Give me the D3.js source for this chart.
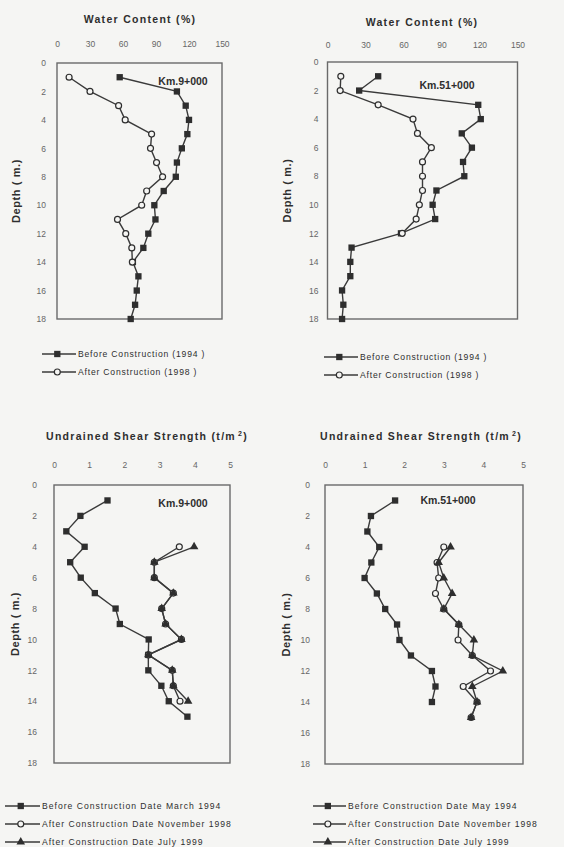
<!DOCTYPE html>
<html><head><meta charset="utf-8">
<script src="https://cdn.jsdelivr.net/npm/d3@7"></script>
<style>
html,body{margin:0;padding:0;background:#f5f5f3;}
svg{display:block;font-family:"Liberation Sans",Arial,sans-serif;}
</style></head>
<body>
<svg id="c" width="564" height="847"></svg>
<script>
// ---------- DATA ----------
const depthTicks = [0,2,4,6,8,10,12,14,16,18];
const wcTicks = [0,30,60,90,120,150];
const ssTicks = [0,1,2,3,4,5];

const wc9Depth = [1,2,3,4,5,6,7,8,9,10,11,12,13,14,15,16,17,18];
const wc9Before = [57,109,117,120,118.5,113.5,109,108,97,88.5,89.5,83,78.5,69,74,72.5,71,67];
const wc9AfterDepth = [1,2,3,4,5,6,7,8,9,10,11,12,13,14];
const wc9After = [11,30,56,62,86,85,90.5,96,81.5,77,55,62.5,68,68.5];

const wc51Depth = [1,2,3,4,5,6,7,8,9,10,11,12,13,14,15,16,17,18];
const wc51Before = [40,25,119,121,106,114,107,108,86,83,85,58,19,18,18,11.5,12.5,11.5];
const wc51AfterDepth = [1,2,3,4,5,6,7,8,9,10,11,12];
const wc51After = [10.5,10,40,67.5,71,82,75,75,75,72.5,70,59];

const ss9BeforeDepth = [1,2,3,4,5,6,7,8,9,10,11,12,13,14,15];
const ss9Before = [1.52,0.75,0.35,0.87,0.46,0.76,1.16,1.75,1.87,2.69,2.68,2.68,3.05,3.26,3.79];
const ss9AfterDepth = [4,5,6,7,8,9,10,11,12,13,14];
const ss9AfterNov = [3.56,2.85,2.85,3.39,3.06,3.17,3.62,2.68,3.36,3.39,3.58];
const ss9AfterJul = [3.98,2.85,2.85,3.39,3.06,3.17,3.62,2.68,3.36,3.39,3.81];

const ss51BeforeDepth = [1,2,3,4,5,6,7,8,9,10,11,12,13,14];
const ss51Before = [1.77,1.16,1.07,1.37,1.17,1.0,1.31,1.52,1.82,1.88,2.17,2.70,2.79,2.70];
const ss51AfterDepth = [4,5,6,7,8,9,10,11,12,13,14,15];
const ss51AfterNov = [3.0,2.83,2.87,2.79,3.0,3.38,3.36,3.72,4.18,3.49,3.84,3.69];
const ss51AfterJul = [3.17,2.87,3.0,3.21,3.0,3.38,3.76,3.72,4.49,3.72,3.84,3.69];

const wcTitle = "Water Content (%)";
const ssTitle = "Undrained Shear Strength (t/m";
const yTitle = "Depth ( m.)";

// ---------- DRAW ----------
const svg = d3.select("#c");
const INK = "#2e2e2e";
const LINE = "#3a3a3a";
const BG = "#f5f5f3";

function marker(g, type, x, y) {
  if (type === "square") {
    g.append("path").attr("d", d3.symbol(d3.symbolSquare, 40)())
      .attr("transform", `translate(${x},${y})`).attr("fill", INK);
  } else if (type === "circle") {
    g.append("path").attr("d", d3.symbol(d3.symbolCircle, 28)())
      .attr("transform", `translate(${x},${y})`).attr("fill", BG).attr("stroke", INK).attr("stroke-width", 1.2);
  } else {
    g.append("path").attr("d", d3.symbol(d3.symbolTriangle, 32)())
      .attr("transform", `translate(${x},${y})`).attr("fill", INK);
  }
}

function panel(o) {
  const x = d3.scaleLinear().domain(o.xDomain).range([o.x0, o.x1]);
  const y = d3.scaleLinear().domain([0,18]).range([o.y0, o.y1]);
  const g = svg.append("g");

  const t = g.append("text").attr("x", o.titleX).attr("y", o.titleY)
    .attr("text-anchor","middle").attr("font-size",10.5).attr("font-weight","bold")
    .attr("letter-spacing",1.3).attr("fill",INK).text(o.title);
  if (o.sup) {
    t.append("tspan").attr("font-size",7).attr("dy",-4).attr("dx",2).text("2");
    t.append("tspan").attr("dy",4).text(")");
  }

  const xa = g.append("g").attr("transform",`translate(0,${o.y0})`)
    .call(d3.axisTop(x).tickValues(o.xTicks).tickFormat(d3.format("d")).tickSize(0).tickPadding(o.y0 - o.xLabY));
  xa.select(".domain").remove();
  xa.selectAll("text").attr("font-size",8.5).attr("fill","#666").attr("font-family","Liberation Sans, Arial, sans-serif");

  const ya = g.append("g").attr("transform",`translate(${o.x0},0)`)
    .call(d3.axisLeft(y).tickValues(depthTicks).tickFormat(d3.format("d")).tickSize(0).tickPadding(o.yPad));
  ya.select(".domain").remove();
  ya.selectAll("text").attr("font-size",8.5).attr("fill","#666").attr("font-family","Liberation Sans, Arial, sans-serif");

  g.append("text").attr("transform",`translate(${o.yTitleX},${(o.y0+o.y1)/2}) rotate(-90)`)
    .attr("text-anchor","middle").attr("font-size",11).attr("font-weight","bold")
    .attr("letter-spacing",0.6).attr("fill",INK).text(yTitle);

  g.append("rect").attr("x",o.x0).attr("y",o.y0).attr("width",o.x1-o.x0).attr("height",o.y1-o.y0)
    .attr("fill","none").attr("stroke","#6a6a6a").attr("stroke-width",1.4);

  const line = d3.line().x(d => x(d[0])).y(d => y(d[1]));
  o.series.forEach(s => {
    const pts = s.v.map((v,i) => [v, s.d[i]]);
    g.append("path").attr("d", line(pts)).attr("fill","none").attr("stroke",LINE).attr("stroke-width",1.4);
  });
  o.series.forEach(s => {
    s.v.forEach((v,i) => marker(g, s.type, x(v), y(s.d[i])));
  });

  g.append("text").attr("x",o.kmX).attr("y",o.kmY).attr("text-anchor","middle")
    .attr("font-size",10.5).attr("font-weight","bold").attr("fill",INK).text(o.km);

  o.legend.items.forEach((it,i) => {
    const ly = o.legend.y + i*o.legend.dy;
    g.append("line").attr("x1",o.legend.x).attr("x2",o.legend.x+o.legend.len).attr("y1",ly).attr("y2",ly)
      .attr("stroke",LINE).attr("stroke-width",1.4);
    marker(g, it.type, o.legend.x + o.legend.len*0.45, ly);
    g.append("text").attr("x",o.legend.x+o.legend.len+2).attr("y",ly+3.2)
      .attr("font-size",8.6).attr("letter-spacing",o.legend.ls).attr("fill",INK).text(it.label);
  });
}

panel({
  x0:57, x1:222, y0:63, y1:319, xDomain:[0,150], xTicks:wcTicks, xLabY:47, yPad:11,
  title:wcTitle, titleX:140, titleY:23, yTitleX:20,
  km:"Km.9+000", kmX:183, kmY:85,
  series:[
    {d:wc9Depth, v:wc9Before, type:"square"},
    {d:wc9AfterDepth, v:wc9After, type:"circle"}
  ],
  legend:{x:42, y:354, dy:18, len:34, ls:0.8, items:[
    {type:"square", label:"Before Construction (1994 )"},
    {type:"circle", label:"After Construction (1998 )"}
  ]}
});

panel({
  x0:327.5, x1:517.5, y0:62, y1:319, xDomain:[0,150], xTicks:wcTicks, xLabY:48, yPad:9,
  title:wcTitle, titleX:422, titleY:26, yTitleX:291,
  km:"Km.51+000", kmX:447, kmY:89,
  series:[
    {d:wc51Depth, v:wc51Before, type:"square"},
    {d:wc51AfterDepth, v:wc51After, type:"circle"}
  ],
  legend:{x:324, y:357, dy:18, len:34, ls:0.8, items:[
    {type:"square", label:"Before Construction (1994 )"},
    {type:"circle", label:"After Construction (1998 )"}
  ]}
});

panel({
  x0:54, x1:230, y0:485, y1:763, xDomain:[0,5], xTicks:ssTicks, xLabY:468, yPad:17,
  title:ssTitle, sup:true, titleX:147, titleY:440, yTitleX:19,
  km:"Km.9+000", kmX:183, kmY:507,
  series:[
    {d:ss9BeforeDepth, v:ss9Before, type:"square"},
    {d:ss9AfterDepth, v:ss9AfterNov, type:"circle"},
    {d:ss9AfterDepth, v:ss9AfterJul, type:"triangle"}
  ],
  legend:{x:5, y:806, dy:18, len:35, ls:1.0, items:[
    {type:"square", label:"Before Construction Date March 1994"},
    {type:"circle", label:"After Construction Date November 1998"},
    {type:"triangle", label:"After Construction Date July 1999"}
  ]}
});

panel({
  x0:325, x1:523, y0:485, y1:764, xDomain:[0,5], xTicks:ssTicks, xLabY:468, yPad:15,
  title:ssTitle, sup:true, titleX:421, titleY:440, yTitleX:290,
  km:"Km.51+000", kmX:448, kmY:504,
  series:[
    {d:ss51BeforeDepth, v:ss51Before, type:"square"},
    {d:ss51AfterDepth, v:ss51AfterNov, type:"circle"},
    {d:ss51AfterDepth, v:ss51AfterJul, type:"triangle"}
  ],
  legend:{x:313, y:806, dy:18, len:33, ls:1.0, items:[
    {type:"square", label:"Before Construction Date May 1994"},
    {type:"circle", label:"After Construction Date November 1998"},
    {type:"triangle", label:"After Construction Date July 1999"}
  ]}
});
</script>
</body></html>
